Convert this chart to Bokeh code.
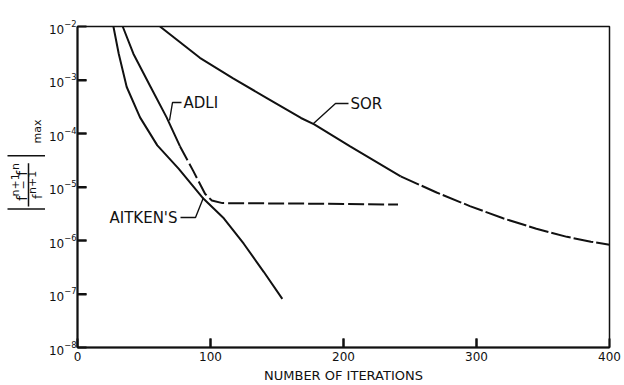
import math
from bokeh.plotting import figure
from bokeh.layouts import row
from bokeh.models import Range1d, FixedTicker, Label
from bokeh.core.properties import value
from bokeh.embed import file_html
from bokeh.resources import INLINE

# ---- data ----
SOR_X = [62, 92, 117, 143, 168, 178, 205, 243, 270, 295, 320, 345, 368, 386, 400]
SOR_Y = [1.0e-2, 2.6e-3, 1.07e-3, 4.5e-4, 1.95e-4, 1.48e-4, 5.75e-5, 1.58e-5,
         7.9e-6, 4.4e-6, 2.6e-6, 1.66e-6, 1.17e-6, 9.5e-7, 8.3e-7]
ADLI_X = [34, 42, 55, 67, 77, 87, 96, 101, 109, 168, 241]
ADLI_Y = [1.0e-2, 3.1e-3, 7.4e-4, 2.0e-4, 5.8e-5, 2.0e-5, 7.4e-6, 5.6e-6, 5.0e-6,
          4.9e-6, 4.7e-6]
AITKEN_X = [27, 31, 37, 47, 60, 76, 94, 110, 125, 140, 154]
AITKEN_Y = [1.0e-2, 3.1e-3, 7.4e-4, 2.0e-4, 6.0e-5, 2.2e-5, 6.3e-6, 2.6e-6,
            8.7e-7, 2.6e-7, 8.1e-8]
X_TICKS = [0, 100, 200, 300, 400]
Y_TICKS = [1e-8, 1e-7, 1e-6, 1e-5, 1e-4, 1e-3, 1e-2]
SERIES_NAMES = ["SOR", "ADLI", "AITKEN'S"]
X_TITLE = "NUMBER OF ITERATIONS"

SOR_SOLID_END = 7
ADLI_SOLID_END = 4

INK = "#111111"
FONT = "DejaVu Sans"
TICK_PX = 9

p = figure(width=579, height=385, y_axis_type="log",
           x_range=Range1d(0, 400), y_range=Range1d(1e-8, 1e-2),
           output_backend="svg", toolbar_location=None,
           min_border_left=32, min_border_right=15,
           min_border_top=26, min_border_bottom=38)

p.xgrid.visible = False
p.ygrid.visible = False
p.outline_line_color = INK
p.outline_line_width = 1.5
p.outline_line_alpha = 1.0
p.background_fill_color = "white"
p.border_fill_color = "white"

for ax in (p.xaxis, p.yaxis):
    ax.axis_line_color = INK
    ax.axis_line_width = 2
    ax.major_tick_line_color = INK
    ax.major_tick_line_width = 2
    ax.major_tick_in = TICK_PX
    ax.major_tick_out = 0
    ax.minor_tick_line_color = None
    ax.major_label_text_font = FONT
    ax.major_label_text_color = INK

p.xaxis.ticker = FixedTicker(ticks=X_TICKS, minor_ticks=[])
p.yaxis.ticker = FixedTicker(ticks=Y_TICKS, minor_ticks=[])
p.xaxis.major_label_text_font_size = "12px"
p.xaxis.major_label_standoff = 4
p.yaxis.major_label_text_font_size = "12px"
p.yaxis.major_label_standoff = 1
p.xaxis.axis_label = X_TITLE
p.xaxis.axis_label_text_font = FONT
p.xaxis.axis_label_text_font_size = "13px"
p.xaxis.axis_label_text_font_style = "normal"
p.xaxis.axis_label_text_color = INK
p.xaxis.axis_label_standoff = 4

# inward tick marks drawn explicitly (one pixel length TICK_PX in data units)
x_per_px = 400 / 532
dec_per_px = 6 / 321
xt = X_TICKS[1:-1]
p.segment(x0=xt, y0=[Y_TICKS[0]] * len(xt), x1=xt,
          y1=[Y_TICKS[0] * 10 ** (TICK_PX * dec_per_px)] * len(xt),
          line_color=INK, line_width=2)
yt = Y_TICKS[1:-1]
p.segment(x0=[X_TICKS[0]] * len(yt), y0=yt, x1=[X_TICKS[0] + TICK_PX * x_per_px] * len(yt),
          y1=yt, line_color=INK, line_width=2)

# ---- curves ----
p.line(SOR_X[:SOR_SOLID_END + 1], SOR_Y[:SOR_SOLID_END + 1], line_color=INK, line_width=2)
p.line(SOR_X[SOR_SOLID_END:], SOR_Y[SOR_SOLID_END:], line_color=INK, line_width=2,
       line_dash="20 3")
p.line(ADLI_X[:ADLI_SOLID_END + 1], ADLI_Y[:ADLI_SOLID_END + 1], line_color=INK, line_width=2)
p.line(ADLI_X[ADLI_SOLID_END:], ADLI_Y[ADLI_SOLID_END:], line_color=INK, line_width=2,
       line_dash="16 4")
p.line(AITKEN_X, AITKEN_Y, line_color=INK, line_width=2)


# helpers: reference-pixel layout -> data coordinates (annotations only)
def fx(px):
    return (px - 77) * 400 / 532


def fy(py):
    return 10 ** (-2 - (py - 26) * 6 / 321)


# ---- curve labels with leader lines ----
LEADERS = {
    "SOR": ([348, 335, 313], [103, 103, 123]),
    "ADLI": ([181, 172, 169], [102, 102, 120]),
    "AITKEN'S": ([180, 195, 203], [217, 217, 197]),
}
LABEL_POS = {
    "SOR": (350, 103, "left"),
    "ADLI": (183, 102, "left"),
    "AITKEN'S": (177, 217, "right"),
}
for name in SERIES_NAMES:
    lx, ly = LEADERS[name]
    p.line([fx(v) for v in lx], [fy(v) for v in ly], line_color=INK, line_width=1.4)
    tx, ty, al = LABEL_POS[name]
    p.add_layout(Label(x=fx(tx), y=fy(ty), text=name, text_align=al,
                       text_baseline="middle", text_font=FONT,
                       text_font_size="15px", text_color=INK))

# ---- rotated y-axis formula  | (f^{n+1} - f^n) / f^{n+1} |_max, in its own strip ----
LW = 45
q = figure(width=LW, height=385, x_range=Range1d(0, LW), y_range=Range1d(385, 0),
           output_backend="svg", toolbar_location=None,
           x_axis_location=None, y_axis_location=None,
           min_border=0, min_border_left=0, min_border_right=0,
           min_border_top=0, min_border_bottom=0)
q.xgrid.visible = False
q.ygrid.visible = False
q.outline_line_color = None
q.background_fill_color = "white"
q.border_fill_color = "white"

PIECES = [
    ("max", 37, 126, "11px"),
    ("f", 21, 206, "14px"),
    ("n+1", 15, 190, "11px"),
    ("\u2212", 22, 190, "11px"),
    ("f", 21, 176, "14px"),
    ("n", 15, 168, "11px"),
    ("f", 37, 204, "13px"),
    ("n+1", 32, 187, "11px"),
]
for txt, px, py, size in PIECES:
    q.text(x=[px], y=[py], text=[txt], angle=math.pi / 2,
           text_align="center", text_baseline="middle",
           text_font=value(FONT), text_font_size=value(size), text_color=INK)

RULES_X0 = [28, 7, 7]
RULES_Y0 = [164, 155, 219]
RULES_X1 = [28, 45, 45]
RULES_Y1 = [216, 155, 219]
q.segment(x0=RULES_X0, y0=RULES_Y0, x1=RULES_X1, y1=RULES_Y1,
          line_color=INK, line_width=1.5)

layout = row(q, p)
open("out.html", "w").write(file_html(layout, INLINE))
